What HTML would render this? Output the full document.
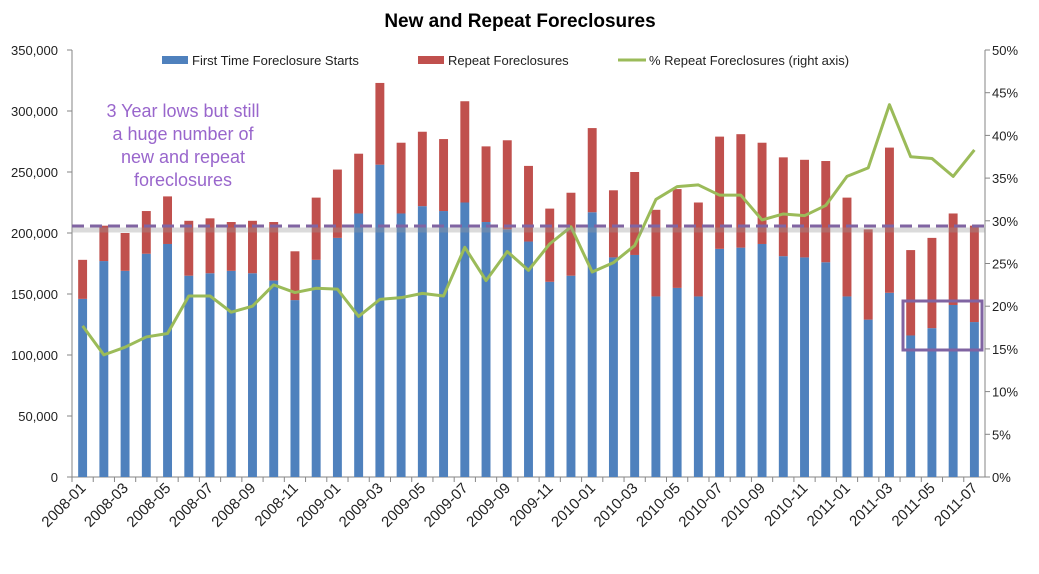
<!DOCTYPE html>
<html><head><meta charset="utf-8"><style>
body{margin:0;background:#fff;font-family:"Liberation Sans",sans-serif}
svg text{font-family:"Liberation Sans",sans-serif}
</style></head><body>
<svg id="chart" width="1039" height="569" xmlns="http://www.w3.org/2000/svg">
<text x="520" y="27" text-anchor="middle" font-size="19" font-weight="bold" fill="#000">New and Repeat Foreclosures</text>
<g id="axes"></g><g id="bars"></g><g id="line"></g><g id="anno"></g>
<g font-size="13" fill="#222">
<rect x="162" y="56" width="26" height="8" fill="#4F81BD"/>
<text x="192" y="65">First Time Foreclosure Starts</text>
<rect x="418" y="56" width="26" height="8" fill="#C0504D"/>
<text x="448" y="65">Repeat Foreclosures</text>
<line x1="618" y1="60" x2="646" y2="60" stroke="#9BBB59" stroke-width="3"/>
<text x="649" y="65">% Repeat Foreclosures (right axis)</text>
</g>
</svg>
<script>
const categories=["2008-01","2008-02","2008-03","2008-04","2008-05","2008-06","2008-07","2008-08","2008-09","2008-10","2008-11","2008-12","2009-01","2009-02","2009-03","2009-04","2009-05","2009-06","2009-07","2009-08","2009-09","2009-10","2009-11","2009-12","2010-01","2010-02","2010-03","2010-04","2010-05","2010-06","2010-07","2010-08","2010-09","2010-10","2010-11","2010-12","2011-01","2011-02","2011-03","2011-04","2011-05","2011-06","2011-07"];
const firstTime=[146,177,169,183,191,165,167,169,167,161,145,178,196,216,256,216,222,218,225,209,203,193,160,165,217,180,182,148,155,148,187,188,191,181,180,176,148,129,151,116,122,141,127];
const totals=[178,206,200,218,230,210,212,209,210,209,185,229,252,265,323,274,283,277,308,271,276,255,220,233,286,235,250,219,236,225,279,281,274,262,260,259,229,203,270,186,196,216,206];
const pctRepeat=[17.7,14.3,15.2,16.4,16.8,21.2,21.2,19.3,20.0,22.5,21.6,22.1,22.0,18.8,20.8,21.0,21.5,21.2,26.9,23.0,26.4,24.2,27.3,29.3,24.0,25.1,27.1,32.5,34.0,34.2,33.0,33.0,30.1,30.8,30.6,31.8,35.2,36.2,43.6,37.5,37.3,35.2,38.3];
const leftTicks=[0,50000,100000,150000,200000,250000,300000,350000];
const rightTicks=[0,5,10,15,20,25,30,35,40,45,50];
const refValue=205.7;

const NS="http://www.w3.org/2000/svg";
const X0=72,X1=985,Y0=477,Y1=50;
const cw=(X1-X0)/categories.length;
const yL=v=>Y0-(v/350)*(Y0-Y1);
const yR=p=>Y0-(p/50)*(Y0-Y1);
const xC=i=>X0+cw*(i+0.5);
function mk(tag,attrs,parent){const e=document.createElementNS(NS,tag);for(const k in attrs)e.setAttribute(k,attrs[k]);parent.appendChild(e);return e;}
const axes=document.getElementById('axes'),bars=document.getElementById('bars'),line=document.getElementById('line'),anno=document.getElementById('anno');
let e;
e=mk('line',{x1:X0,y1:Y1,x2:X0,y2:Y0,stroke:'#868686'},axes);


e=mk('line',{x1:X1,y1:Y1,x2:X1,y2:Y0,stroke:'#868686'},axes);


e=mk('line',{x1:X0,y1:Y0,x2:X1,y2:Y0,stroke:'#868686'},axes);


leftTicks.forEach(v=>{const y=yL(v/1000);
 mk('line',{x1:X0-5,y1:y,x2:X0,y2:y,stroke:'#868686'},axes);
 e=mk('text',{x:X0-14,y:y+5,'text-anchor':'end','font-size':13,fill:'#222'},axes);
 e.textContent=v.toLocaleString('en-US');
 
 });
rightTicks.forEach(p=>{const y=yR(p);
 mk('line',{x1:X1,y1:y,x2:X1+5,y2:y,stroke:'#868686'},axes);
 e=mk('text',{x:X1+7,y:y+5,'font-size':13,fill:'#222'},axes);
 e.textContent=p+'%';
 
 });
categories.forEach((c,i)=>{const x=X0+cw*i;
 mk('line',{x1:x,y1:Y0,x2:x,y2:Y0+5,stroke:'#868686'},axes);
 if(i%2===0){const xc=xC(i)+4;
  e=mk('text',{x:xc,y:Y0+12,'text-anchor':'end','font-size':15,fill:'#222',transform:`rotate(-45 ${xc} ${Y0+12})`},axes);
  e.textContent=c;
  
  }
 const bw=cw*0.42,bx=xC(i)-bw/2;
 e=mk('rect',{x:bx,y:yL(firstTime[i]),width:bw,height:Y0-yL(firstTime[i]),fill:'#4F81BD'},bars);
 
 
 e=mk('rect',{x:bx,y:yL(totals[i]),width:bw,height:yL(firstTime[i])-yL(totals[i]),fill:'#C0504D'},bars);
 
 });
e=mk('polyline',{points:pctRepeat.map((p,i)=>xC(i)+','+yR(p)).join(' '),fill:'none',stroke:'#9BBB59','stroke-width':3,'stroke-linejoin':'round'},line);


const ry=yL(refValue);
e=mk('line',{x1:X0,y1:ry+4,x2:X1,y2:ry+4,stroke:'#999','stroke-width':5,opacity:0.35},anno);


e=mk('line',{x1:X0,y1:ry,x2:X1,y2:ry,stroke:'#8064A2','stroke-width':3,'stroke-dasharray':'12 6'},anno);


e=mk('rect',{x:903,y:301,width:79,height:49,fill:'none',stroke:'#8064A2','stroke-width':3},anno);


["3 Year lows but still","a huge number of","new and repeat","foreclosures"].forEach((t,k)=>{
 e=mk('text',{x:183,y:117+k*23,'text-anchor':'middle','font-size':18,fill:'#9966CC'},anno);
 e.textContent=t;
 
 });
</script>
</body></html>
